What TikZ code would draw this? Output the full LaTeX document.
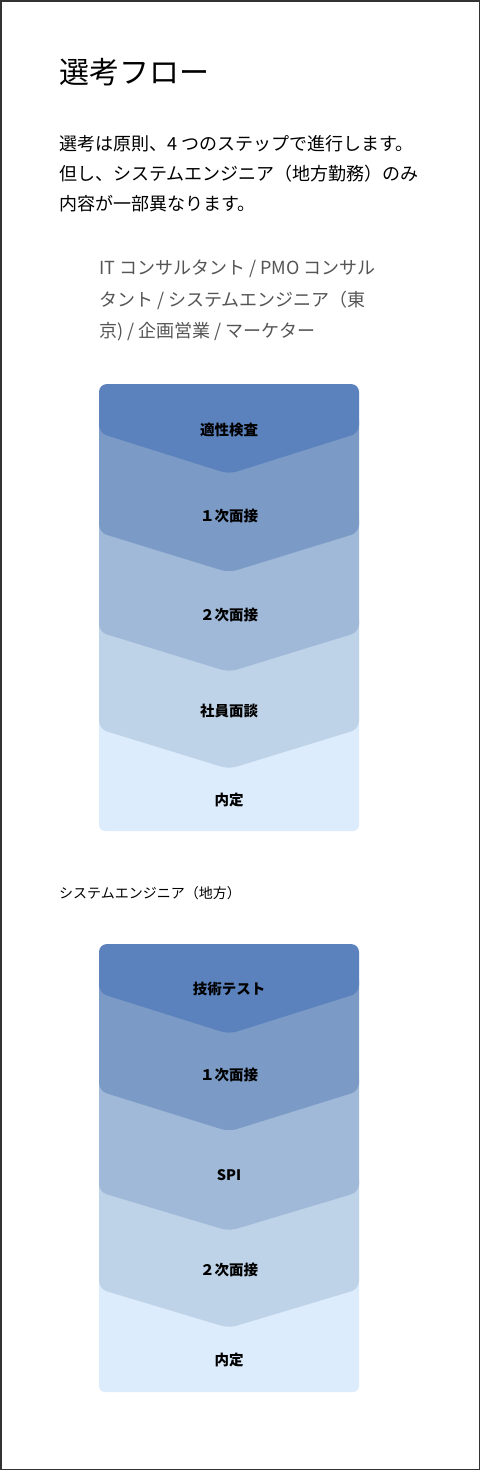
\documentclass[tikz,border=0pt]{standalone}
\usepackage{fontspec}
\setmainfont{Noto Sans CJK JP}
\definecolor{cA}{HTML}{5B82BD}
\definecolor{cB}{HTML}{7B9BC6}
\definecolor{cC}{HTML}{A0B9D8}
\definecolor{cD}{HTML}{BFD3E8}
\definecolor{cE}{HTML}{DDECFC}
\definecolor{frame}{HTML}{333333}
\definecolor{subtext}{HTML}{555555}
\tikzset{
  titletext/.style={anchor=west,inner sep=0pt,font=\fontsize{30}{30}\selectfont},
  bodytext/.style={anchor=west,inner sep=0pt,font=\fontsize{18}{18}\selectfont},
  listtext/.style={anchor=west,inner sep=0pt,text=subtext,font=\fontsize{18}{18}\selectfont},
  headtext/.style={anchor=west,inner sep=0pt,font=\fontsize{14}{14}\selectfont},
  steplabel/.style={inner sep=0pt,font=\bfseries\fontsize{14.5}{14.5}\selectfont},
  stepshape/.style={rounded corners=8pt},
}
\begin{document}
\begin{tikzpicture}[x=1pt,y=-1pt]
\useasboundingbox (0,0) rectangle (481,1471);
\fill[white] (0,0) rectangle (481,1471);
\draw[frame,line width=1.5pt] (1,1) rectangle (479.5,1469.5);

\node[titletext] (title) at (59,72) {選考フロー};
\node[bodytext] (p1) at (59,144) {選考は原則、4 つのステップで進行します。};
\node[bodytext] (p2) at (59,174) {但し、システムエンジニア（地方勤務）のみ};
\node[bodytext] (p3) at (59,204) {内容が一部異なります。};

\node[listtext] (l1) at (99,269) {IT コンサルタント / PMO コンサル};
\node[listtext] (l2) at (99,300) {タント / システムエンジニア（東};
\node[listtext] (l3) at (99,332) {京) / 企画営業 / マーケター};

% flow 1
\fill[cE,rounded corners=6pt] (99,709) rectangle (359,831);
\fill[cD,stepshape] (99,612) -- (99,729) -- (229,769) -- (359,729) -- (359,612) -- cycle;
\fill[cC,stepshape] (99,512) -- (99,632) -- (229,672) -- (359,632) -- (359,512) -- cycle;
\fill[cB,stepshape] (99,413) -- (99,532.5) -- (229,572.5) -- (359,532.5) -- (359,413) -- cycle;
\fill[cA,stepshape] (99,384) -- (99,433) -- (229,474) -- (359,433) -- (359,384) -- cycle;
\node[steplabel] (a1) at (229,430) {適性検査};
\node[steplabel] (a2) at (229,516) {１次面接};
\node[steplabel] (a3) at (229,615) {２次面接};
\node[steplabel] (a4) at (229,711) {社員面談};
\node[steplabel] (a5) at (229,800) {内定};

\node[headtext] (head2) at (59,893) {システムエンジニア（地方）};

% flow 2
\begin{scope}[yshift=-560pt]
\fill[cE,rounded corners=6pt] (99,709) rectangle (359,832);
\fill[cD,stepshape] (99,612) -- (99,729) -- (229,768) -- (359,729) -- (359,612) -- cycle;
\fill[cC,stepshape] (99,512) -- (99,632) -- (229,671) -- (359,632) -- (359,512) -- cycle;
\fill[cB,stepshape] (99,413) -- (99,531) -- (229,571.5) -- (359,531) -- (359,413) -- cycle;
\fill[cA,stepshape] (99,384) -- (99,433) -- (229,474) -- (359,433) -- (359,384) -- cycle;
\node[steplabel] (b1) at (229,429) {技術テスト};
\node[steplabel] (b2) at (229,515) {１次面接};
\node[steplabel] (b3) at (229,615) {SPI};
\node[steplabel] (b4) at (229,710) {２次面接};
\node[steplabel] (b5) at (229,800) {内定};
\end{scope}
\end{tikzpicture}
\end{document}
